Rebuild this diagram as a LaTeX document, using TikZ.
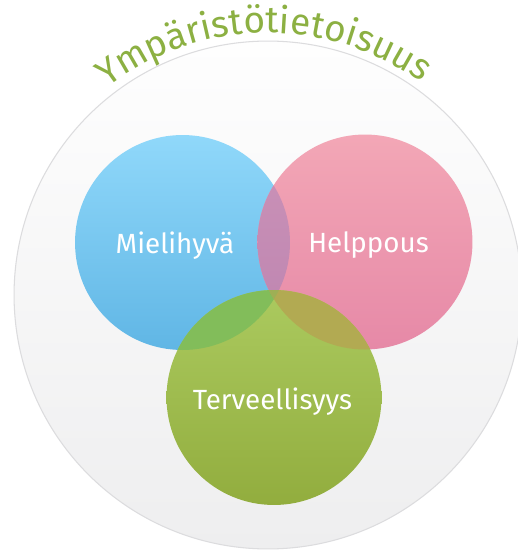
\documentclass[tikz,border=0pt]{standalone}
\usepackage{fontspec}
\setmainfont{Fira Sans}
\usetikzlibrary{decorations.text}
\definecolor{titlegreen}{HTML}{8CB042}
\definecolor{ringline}{HTML}{DCDCDE}
\definecolor{ringtop}{HTML}{FEFEFE}
\definecolor{ringbot}{HTML}{EEEEEF}
\definecolor{bluetop}{HTML}{90D8FA}
\definecolor{bluebot}{HTML}{60B6E5}
\definecolor{pinktop}{HTML}{F3A7B6}
\definecolor{pinkbot}{HTML}{E689A7}
\definecolor{greentop}{HTML}{ABCA5F}
\definecolor{greenbot}{HTML}{92AD3E}
\definecolor{bptop}{HTML}{CC93B8}
\definecolor{bpbot}{HTML}{BC84B0}
\definecolor{bgcol}{HTML}{82BD5A}
\definecolor{pgcol}{HTML}{B2AA52}
\definecolor{bpgcol}{HTML}{9EAF55}
\newfontfamily\titlefont{Fira Sans}
\tikzset{
  venn/.style={circle, inner sep=0pt, minimum size=4.3cm},
  lbl/.style={anchor=base, text=white, font=\fontsize{15.8}{18}\selectfont, inner sep=0pt},
}
\begin{document}
\begin{tikzpicture}[x=0.02cm,y=0.02cm]
\useasboundingbox (0,0) rectangle (518,556);
\fill[white] (0,0) rectangle (518,556);
\node[circle, inner sep=0pt, minimum size=10.16cm, draw=ringline, line width=0.6pt,
      top color=ringtop, bottom color=ringbot] (ring) at (268,261) {};
\node[venn, top color=bluetop, bottom color=bluebot] (blue) at (182.5,313.5) {};
\node[venn, top color=pinktop, bottom color=pinkbot] (pink) at (365,314) {};
\node[venn, top color=greentop, bottom color=greenbot] (green) at (274,158.5) {};
% overlaps
\begin{scope}
  \clip (blue.center) circle (107.5);
  \shade[top color=bptop, bottom color=bpbot] (pink.center) circle (107.5);
  \fill[bgcol] (green.center) circle (107.5);
\end{scope}
\begin{scope}
  \clip (pink.center) circle (107.5);
  \fill[pgcol] (green.center) circle (107.5);
\end{scope}
\begin{scope}
  \clip (blue.center) circle (107.5);
  \clip (pink.center) circle (107.5);
  \fill[bpgcol] (green.center) circle (107.5);
\end{scope}
% labels
\node[lbl] (tmiel) at (175,303) {Mielihyvä};
\node[lbl] (thelp) at (368.5,304) {Helppous};
\node[lbl] (tterv) at (272.5,147) {Terveellisyys};
% title along the arc
\path[decorate, decoration={text along path, text align=center,
  text={|\titlefont\fontsize{21}{24}\selectfont\color{titlegreen}|Ympäristötietoisuus}}]
  (ring.center) ++(136:262) arc (136:46:262);
\end{tikzpicture}
\end{document}
